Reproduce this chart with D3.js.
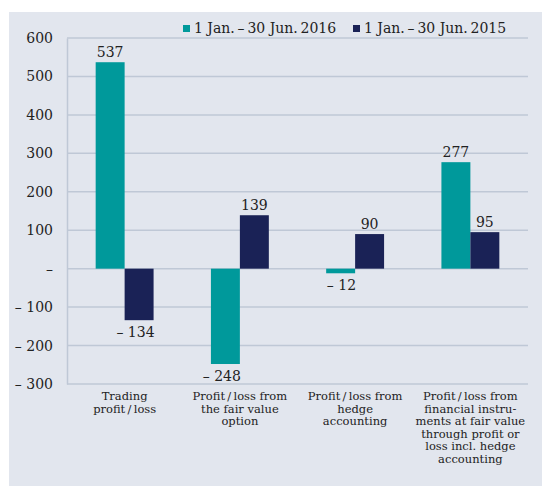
<!DOCTYPE html>
<html>
<head>
<meta charset="utf-8">
<script src="https://cdn.jsdelivr.net/npm/d3@7"></script>
<style>
  body { margin: 0; background: #fff; }
  svg text { font-family: "DejaVu Serif", serif; fill: #222; }
</style>
</head>
<body>
<div id="chart"></div>
<script>
// chart data
var categories = [
  ["Trading", "profit\u2009/\u2009loss"],
  ["Profit\u2009/\u2009loss from", "the fair value", "option"],
  ["Profit\u2009/\u2009loss from", "hedge", "accounting"],
  ["Profit\u2009/\u2009loss from", "financial instru-", "ments at fair value", "through profit or", "loss incl. hedge", "accounting"]
];
var seriesNames = ["1 Jan.\u2009–\u200930 Jun.\u20092016", "1 Jan.\u2009–\u200930 Jun.\u20092015"];
var values2016 = [537, -248, -12, 277];
var values2015 = [-134, 139, 90, 95];
var yTicks = [-300, -200, -100, 0, 100, 200, 300, 400, 500, 600];

var colors = ["#00999b", "#1a2256"];

var width = 542, height = 486;
var margin = {top: 38, right: 14, bottom: 102, left: 67};
var plotW = width - margin.left - margin.right;
var plotH = height - margin.top - margin.bottom;

var svg = d3.select("#chart").append("svg")
  .attr("width", width)
  .attr("height", height);

// panel background
svg.append("rect")
  .attr("x", 9).attr("y", 12)
  .attr("width", width - 9).attr("height", height - 12)
  .attr("fill", "#e2e6ee");

var g = svg.append("g")
  .attr("transform", "translate(" + margin.left + "," + margin.top + ")");

var data = categories.map(function(c, i){
  return {cat: i, vals: [values2016[i], values2015[i]]};
});

var x0 = d3.scaleBand()
  .domain(d3.range(categories.length))
  .range([0, plotW]);

var x1 = d3.scaleBand()
  .domain([0, 1])
  .range([0, x0.bandwidth()])
  .paddingOuter(0.99);

var y = d3.scaleLinear()
  .domain([-300, 600])
  .range([plotH, 0]);

function fmt(d){
  if (d === 0) return "–";
  if (d < 0) return "– " + Math.abs(d);
  return "" + d;
}

// gridlines
g.selectAll(".grid")
  .data(yTicks)
  .enter().append("line")
    .attr("x1", 0).attr("x2", plotW)
    .attr("y1", function(d){ return y(d); })
    .attr("y2", function(d){ return y(d); })
    .attr("stroke", "#bfc8d6")
    .attr("stroke-width", 1.5);

// y axis
var yAxis = d3.axisLeft(y).tickValues(yTicks).tickFormat(fmt).tickSize(0).tickPadding(14);
var ya = g.append("g").call(yAxis);
ya.select(".domain").attr("stroke", "#bfc8d6").attr("stroke-width", 1.5);
ya.selectAll("text").attr("font-size", "14px").attr("font-family", "DejaVu Serif").attr("fill", "#222");

// bars
var groups = g.selectAll(".grp")
  .data(data)
  .enter().append("g")
    .attr("transform", function(d){ return "translate(" + x0(d.cat) + ",0)"; });

groups.selectAll("rect")
  .data(function(d){ return d.vals; })
  .enter().append("rect")
    .attr("x", function(d, i){ return x1(i); })
    .attr("width", x1.bandwidth())
    .attr("y", function(d){ return y(Math.max(0, d)); })
    .attr("height", function(d){ return Math.abs(y(d) - y(0)); })
    .attr("fill", function(d, i){ return colors[i]; });

// value labels
groups.selectAll(".val")
  .data(function(d){ return d.vals; })
  .enter().append("text")
    .attr("font-size", "14px")
    .attr("text-anchor", function(d){ return d < 0 ? "end" : "middle"; })
    .attr("x", function(d, i){ return d < 0 ? x1(i) + x1.bandwidth() + 1 : x1(i) + x1.bandwidth() / 2; })
    .attr("y", function(d){ return d < 0 ? y(d) + 17 : y(d) - 5; })
    .text(fmt);

// category labels
g.selectAll(".cat")
  .data(categories)
  .enter().append("text")
    .attr("font-size", "11.5px")
    .attr("text-anchor", "middle")
    .attr("transform", function(d, i){ return "translate(" + (x0(i) + x0.bandwidth() / 2) + "," + (plotH + 16) + ")"; })
    .selectAll("tspan")
    .data(function(d){ return d; })
    .enter().append("tspan")
      .attr("x", 0)
      .attr("dy", function(d, i){ return i === 0 ? 0 : 12.5; })
      .text(function(d){ return d; });

// legend
var legendX = [183, 353];
var legend = svg.selectAll(".legend")
  .data(seriesNames)
  .enter().append("g")
    .attr("transform", function(d, i){ return "translate(" + legendX[i] + ",25)"; });

legend.append("rect")
  .attr("width", 7).attr("height", 7)
  .attr("fill", function(d, i){ return colors[i]; });

legend.append("text")
  .attr("x", 11).attr("y", 8)
  .attr("font-size", "14px")
  .text(function(d){ return d; });
</script>
</body>
</html>
